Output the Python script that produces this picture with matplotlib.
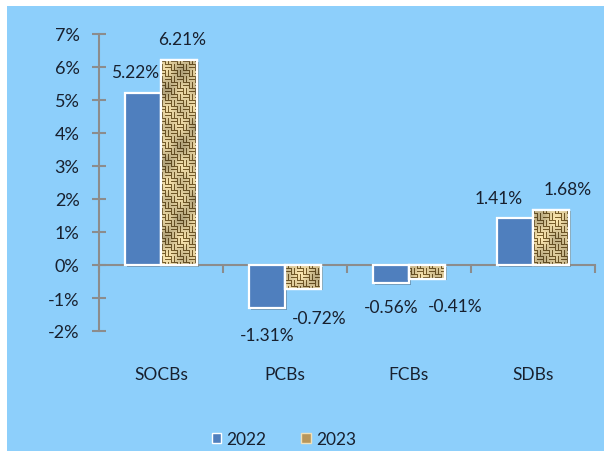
import numpy as np
import matplotlib.pyplot as plt
import matplotlib.patheffects as pe
from matplotlib.patches import Rectangle, Patch
from matplotlib.ticker import FuncFormatter, FixedLocator

# data
categories = ["SOCBs", "PCBs", "FCBs", "SDBs"]
years = ["2022", "2023"]
vals_2022 = [5.22, -1.31, -0.56, 1.41]
vals_2023 = [6.21, -0.72, -0.41, 1.68]

# label nudges in points (dx, dy), just to sit where the original puts them
offs_2022 = [(-6, 15), (0, -19), (0, -17), (-12, 15)]
offs_2023 = [(2, 15), (12, -21), (20, -20), (12, 15)]

plt.rcParams['font.family'] = ['Lato', 'DejaVu Sans']
txt_col = '#18202e'
bg = '#8dcffb'
blue = '#4f7fbe'
axis_col = '#8c8c8c'

fig = plt.figure(figsize=(6.04, 4.52), dpi=100)
fig.patch.set_facecolor('white')
fig.patches.append(Rectangle((7 / 604, 0), 1, 1 - 7 / 452, transform=fig.transFigure,
                             facecolor=bg, edgecolor='none', zorder=-10))

ax = fig.add_axes([99 / 604, 1 - 332 / 452, 496 / 604, 297 / 452])
ax.set_facecolor('none')

x = np.arange(len(categories))
w = 0.29
shadow = [pe.SimplePatchShadow(offset=(1.2, -1.2), alpha=0.35), pe.Normal()]

b1 = ax.bar(x - w / 2, vals_2022, w, color=blue, edgecolor='white', linewidth=1.6,
            zorder=3, path_effects=shadow)
b2 = ax.bar(x + w / 2, vals_2023, w, color='#d2b67a', edgecolor='white', linewidth=1.6,
            zorder=3, path_effects=shadow)

# burlap-like weave texture for the 2023 bars
H, W = 297, 496
yy, xx = np.mgrid[0:H, 0:W]
cell = 6
ci, cj = yy // cell, xx // cell
horiz = (ci + cj) % 2 == 0
line = np.where(horiz, (yy % 3) == 0, (xx % 3) == 0)
light = np.array([238, 218, 166]) / 255
dark = np.array([118, 92, 42]) / 255
tex = np.where(line[..., None], dark, light)
shade = 0.9 + 0.1 * np.sin(xx * 0.21) * np.cos(yy * 0.17) + 0.06 * np.sin((xx + yy) * 0.09)
tex = np.clip(tex * shade[..., None], 0, 1)

for bar in b2:
    im = ax.imshow(tex, extent=(-0.5, 3.5, -2, 7), aspect='auto', interpolation='nearest',
                   zorder=3.5, origin='upper')
    im.set_clip_path(bar)
ax.bar(x + w / 2, vals_2023, w, fill=False, edgecolor='white', linewidth=1.6, zorder=4)

ax.set_xlim(-0.5, 3.5)
ax.set_ylim(-2, 7)

# axes styling
for s in ['top', 'right']:
    ax.spines[s].set_visible(False)
ax.spines['left'].set_color(axis_col)
ax.spines['left'].set_linewidth(1.5)
ax.spines['bottom'].set_position(('data', 0))
ax.spines['bottom'].set_color(axis_col)
ax.spines['bottom'].set_linewidth(1.5)

ax.set_yticks(np.arange(-2, 8, 1))
ax.yaxis.set_major_formatter(FuncFormatter(lambda v, p: f"{v:.0f}%"))
ax.tick_params(axis='y', direction='inout', length=10, width=1.5, color=axis_col,
               labelsize=13, labelcolor=txt_col, pad=9)
ax.xaxis.set_major_locator(FixedLocator(np.arange(-0.5, 4, 1)))
ax.set_xticklabels([])
ax.tick_params(axis='x', direction='out', length=6, width=1.5, color=axis_col)

for i, c in enumerate(categories):
    ax.text(x[i], -0.145, c, transform=ax.get_xaxis_transform(), ha='center', va='center',
            fontsize=12.5, color=txt_col)

# value labels
for bars, vals, offs in [(b1, vals_2022, offs_2022), (b2, vals_2023, offs_2023)]:
    for bar, v, (dx, dy) in zip(bars, vals, offs):
        ax.annotate(f"{v:.2f}%", (bar.get_x() + bar.get_width() / 2, v),
                    xytext=(dx, dy), textcoords='offset points', ha='center', va='center',
                    fontsize=12.5, color=txt_col, zorder=5)

handles = [Patch(facecolor=blue, edgecolor='white', label=years[0]),
           Patch(facecolor='#b8965a', edgecolor='#f0e0b8', label=years[1])]
fig.legend(handles=handles, loc='center', bbox_to_anchor=(284 / 604, 1 - 440 / 452), ncol=2,
           frameon=False, fontsize=12.5, handlelength=0.55, handleheight=0.55,
           handletextpad=0.3, columnspacing=2.0, labelcolor=txt_col)

fig.savefig('out.png', dpi=100)
